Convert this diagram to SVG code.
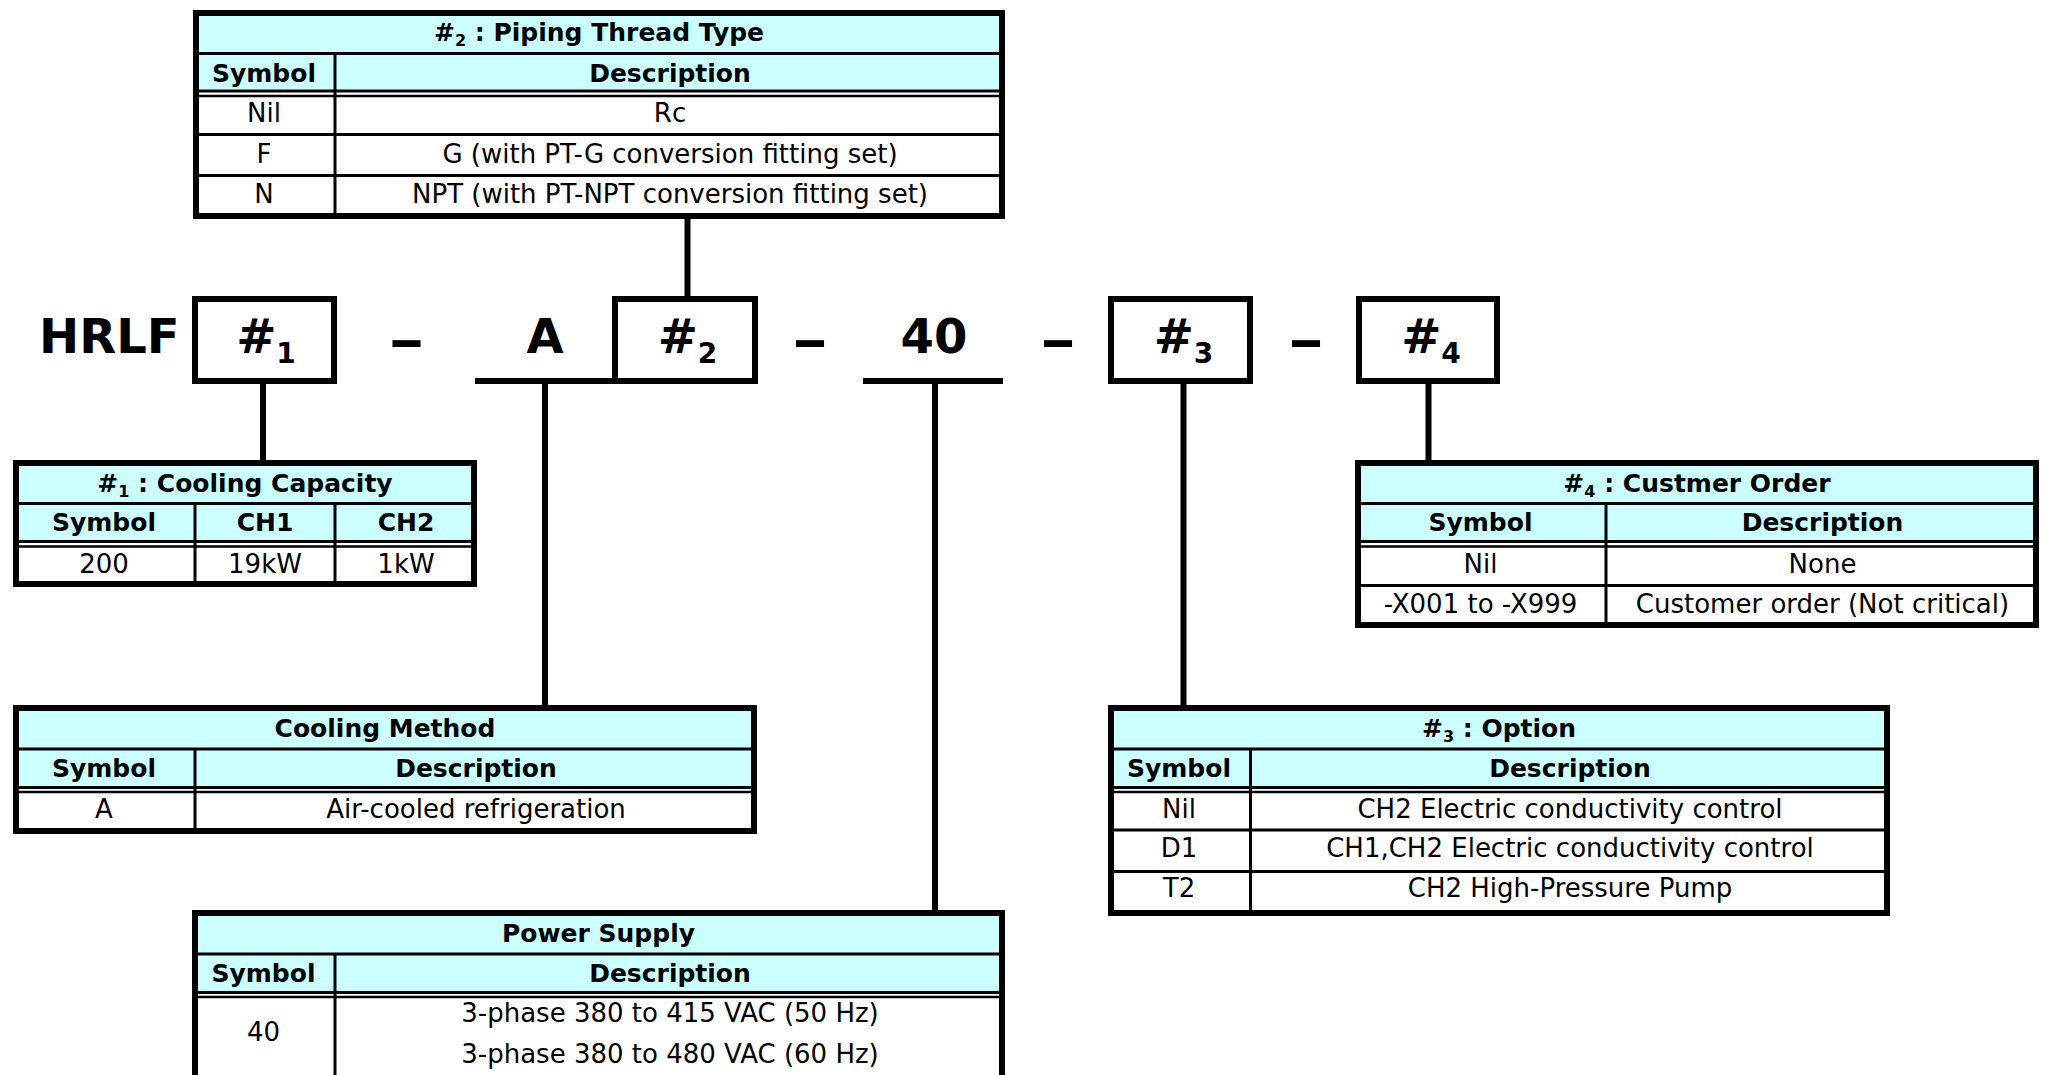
<svg xmlns="http://www.w3.org/2000/svg" width="2046" height="1075" viewBox="0 0 2046 1075">
<style>
.frame{fill:none;stroke:#000;stroke-width:6}
.ln{stroke:#000;stroke-width:3;fill:none}
.dl{stroke:#000;stroke-width:2.5;fill:none}
.cy{fill:#CCFFFF}
.wh{fill:#FFFFFF}
text{font-family:"DejaVu Sans","Verdana",sans-serif;fill:#000;text-anchor:middle}
.t{font-size:26px}
.h{font-size:25px;font-weight:bold}
.big{font-size:48px;font-weight:bold}
.conn{stroke:#000;stroke-width:6;fill:none}
</style>
<rect x="0" y="0" width="2046" height="1075" fill="#FFFFFF"/>

<g id="code">
<text class="big" x="39" y="353" style="text-anchor:start">HRLF</text>
<text class="big" x="545" y="353">A</text>
<text class="big" x="934" y="353">40</text>
<text class="big" x="406.5" y="357" font-size="66" textLength="38" lengthAdjust="spacingAndGlyphs">-</text>
<text class="big" x="810" y="357" font-size="66" textLength="38" lengthAdjust="spacingAndGlyphs">-</text>
<text class="big" x="1058" y="357" font-size="66" textLength="38" lengthAdjust="spacingAndGlyphs">-</text>
<text class="big" x="1306" y="357" font-size="66" textLength="38" lengthAdjust="spacingAndGlyphs">-</text>
</g>

<g id="box1">
<rect class="frame" x="195" y="299" width="139" height="82" fill="#FFFFFF"/>
<text class="big" x="266" y="353">#<tspan font-size="28" dy="10">1</tspan></text>
</g>
<g id="box2">
<rect class="frame" x="615" y="299" width="140" height="82" fill="#FFFFFF"/>
<text class="big" x="687.5" y="353">#<tspan font-size="28" dy="10">2</tspan></text>
</g>
<g id="box3">
<rect class="frame" x="1111" y="299" width="139" height="82" fill="#FFFFFF"/>
<text class="big" x="1183.5" y="353">#<tspan font-size="28" dy="10">3</tspan></text>
</g>
<g id="box4">
<rect class="frame" x="1359" y="299" width="138" height="82" fill="#FFFFFF"/>
<text class="big" x="1431" y="353">#<tspan font-size="28" dy="10">4</tspan></text>
</g>

<g id="connectors">
<path class="conn" d="M687.5 219 V296"/>
<path class="conn" d="M263 384 V460"/>
<path class="conn" d="M475 381 H612"/>
<path class="conn" d="M545 384 V705"/>
<path class="conn" d="M863 381 H1003"/>
<path class="conn" d="M935 384 V910"/>
<path class="conn" d="M1183.5 384 V705"/>
<path class="conn" d="M1428.5 384 V460"/>
</g>

<g id="table-thread">
<rect class="wh" x="193" y="10" width="812" height="209"/>
<rect class="cy" x="193" y="10" width="812" height="82"/>
<line class="ln" x1="193" y1="53.5" x2="1005" y2="53.5"/>
<line class="ln" x1="193" y1="91" x2="1005" y2="91"/>
<line class="dl" x1="193" y1="96" x2="1005" y2="96"/>
<line class="ln" x1="193" y1="134.5" x2="1005" y2="134.5"/>
<line class="ln" x1="193" y1="175.5" x2="1005" y2="175.5"/>
<line class="ln" x1="335" y1="53.5" x2="335" y2="219"/>
<rect class="frame" x="196" y="13" width="806" height="203"/>
<text class="h" x="599" y="41">#<tspan font-size="16" dy="5">2</tspan><tspan dy="-5"> : Piping Thread Type</tspan></text>
<text class="h" x="264" y="82">Symbol</text>
<text class="h" x="670" y="82">Description</text>
<text class="t" x="264" y="122">Nil</text>
<text class="t" x="670" y="122">Rc</text>
<text class="t" x="264" y="163">F</text>
<text class="t" x="670" y="163">G (with PT-G conversion fitting set)</text>
<text class="t" x="264" y="203">N</text>
<text class="t" x="670" y="203">NPT (with PT-NPT conversion fitting set)</text>
</g>

<g id="table-capacity">
<rect class="wh" x="13" y="460" width="464" height="127"/>
<rect class="cy" x="13" y="460" width="464" height="82"/>
<line class="ln" x1="13" y1="503.5" x2="477" y2="503.5"/>
<line class="ln" x1="13" y1="541.5" x2="477" y2="541.5"/>
<line class="dl" x1="13" y1="546.5" x2="477" y2="546.5"/>
<line class="ln" x1="195" y1="503.5" x2="195" y2="587"/>
<line class="ln" x1="335" y1="503.5" x2="335" y2="587"/>
<rect class="frame" x="16" y="463" width="458" height="121"/>
<text class="h" x="245" y="492">#<tspan font-size="16" dy="5">1</tspan><tspan dy="-5"> : Cooling Capacity</tspan></text>
<text class="h" x="104" y="531">Symbol</text>
<text class="h" x="265" y="531">CH1</text>
<text class="h" x="406" y="531">CH2</text>
<text class="t" x="104" y="573">200</text>
<text class="t" x="265" y="573">19kW</text>
<text class="t" x="406" y="573">1kW</text>
</g>

<g id="table-order">
<rect class="wh" x="1355" y="460" width="684" height="168"/>
<rect class="cy" x="1355" y="460" width="684" height="82"/>
<line class="ln" x1="1355" y1="503.5" x2="2039" y2="503.5"/>
<line class="ln" x1="1355" y1="541.5" x2="2039" y2="541.5"/>
<line class="dl" x1="1355" y1="546.5" x2="2039" y2="546.5"/>
<line class="ln" x1="1355" y1="585.5" x2="2039" y2="585.5"/>
<line class="ln" x1="1606" y1="503.5" x2="1606" y2="628"/>
<rect class="frame" x="1358" y="463" width="678" height="162"/>
<text class="h" x="1697" y="492">#<tspan font-size="16" dy="5">4</tspan><tspan dy="-5"> : Custmer Order</tspan></text>
<text class="h" x="1480.5" y="531">Symbol</text>
<text class="h" x="1822.5" y="531">Description</text>
<text class="t" x="1480.5" y="573">Nil</text>
<text class="t" x="1822.5" y="573">None</text>
<text class="t" x="1480.5" y="613">-X001 to -X999</text>
<text class="t" x="1822.5" y="613">Customer order (Not critical)</text>
</g>

<g id="table-cooling">
<rect class="wh" x="13" y="705" width="744" height="129"/>
<rect class="cy" x="13" y="705" width="744" height="82"/>
<line class="ln" x1="13" y1="749" x2="757" y2="749"/>
<line class="ln" x1="13" y1="787.5" x2="757" y2="787.5"/>
<line class="dl" x1="13" y1="792" x2="757" y2="792"/>
<line class="ln" x1="195" y1="749" x2="195" y2="834"/>
<rect class="frame" x="16" y="708" width="738" height="123"/>
<text class="h" x="385" y="737">Cooling Method</text>
<text class="h" x="104" y="777">Symbol</text>
<text class="h" x="476" y="777">Description</text>
<text class="t" x="104" y="818">A</text>
<text class="t" x="476" y="818">Air-cooled refrigeration</text>
</g>

<g id="table-option">
<rect class="wh" x="1108" y="705" width="782" height="211"/>
<rect class="cy" x="1108" y="705" width="782" height="82"/>
<line class="ln" x1="1108" y1="749" x2="1890" y2="749"/>
<line class="ln" x1="1108" y1="787.5" x2="1890" y2="787.5"/>
<line class="dl" x1="1108" y1="792" x2="1890" y2="792"/>
<line class="ln" x1="1108" y1="830" x2="1890" y2="830"/>
<line class="ln" x1="1108" y1="871.5" x2="1890" y2="871.5"/>
<line class="ln" x1="1250.5" y1="749" x2="1250.5" y2="916"/>
<rect class="frame" x="1111" y="708" width="776" height="205"/>
<text class="h" x="1499" y="737">#<tspan font-size="16" dy="5">3</tspan><tspan dy="-5"> : Option</tspan></text>
<text class="h" x="1179" y="777">Symbol</text>
<text class="h" x="1570" y="777">Description</text>
<text class="t" x="1179" y="818">Nil</text>
<text class="t" x="1570" y="818">CH2 Electric conductivity control</text>
<text class="t" x="1179" y="857">D1</text>
<text class="t" x="1570" y="857">CH1,CH2 Electric conductivity control</text>
<text class="t" x="1179" y="897">T2</text>
<text class="t" x="1570" y="897">CH2 High-Pressure Pump</text>
</g>

<g id="table-power">
<rect class="wh" x="192" y="910" width="813" height="180"/>
<rect class="cy" x="192" y="910" width="813" height="82"/>
<line class="ln" x1="192" y1="954" x2="1005" y2="954"/>
<line class="ln" x1="192" y1="992.5" x2="1005" y2="992.5"/>
<line class="dl" x1="192" y1="997" x2="1005" y2="997"/>
<line class="ln" x1="335" y1="954" x2="335" y2="1090"/>
<rect class="frame" x="195" y="913" width="807" height="180"/>
<text class="h" x="598.5" y="942">Power Supply</text>
<text class="h" x="263.5" y="982">Symbol</text>
<text class="h" x="670" y="982">Description</text>
<text class="t" x="263.5" y="1041">40</text>
<text class="t" x="670" y="1022">3-phase 380 to 415 VAC (50 Hz)</text>
<text class="t" x="670" y="1063">3-phase 380 to 480 VAC (60 Hz)</text>
</g>
</svg>
